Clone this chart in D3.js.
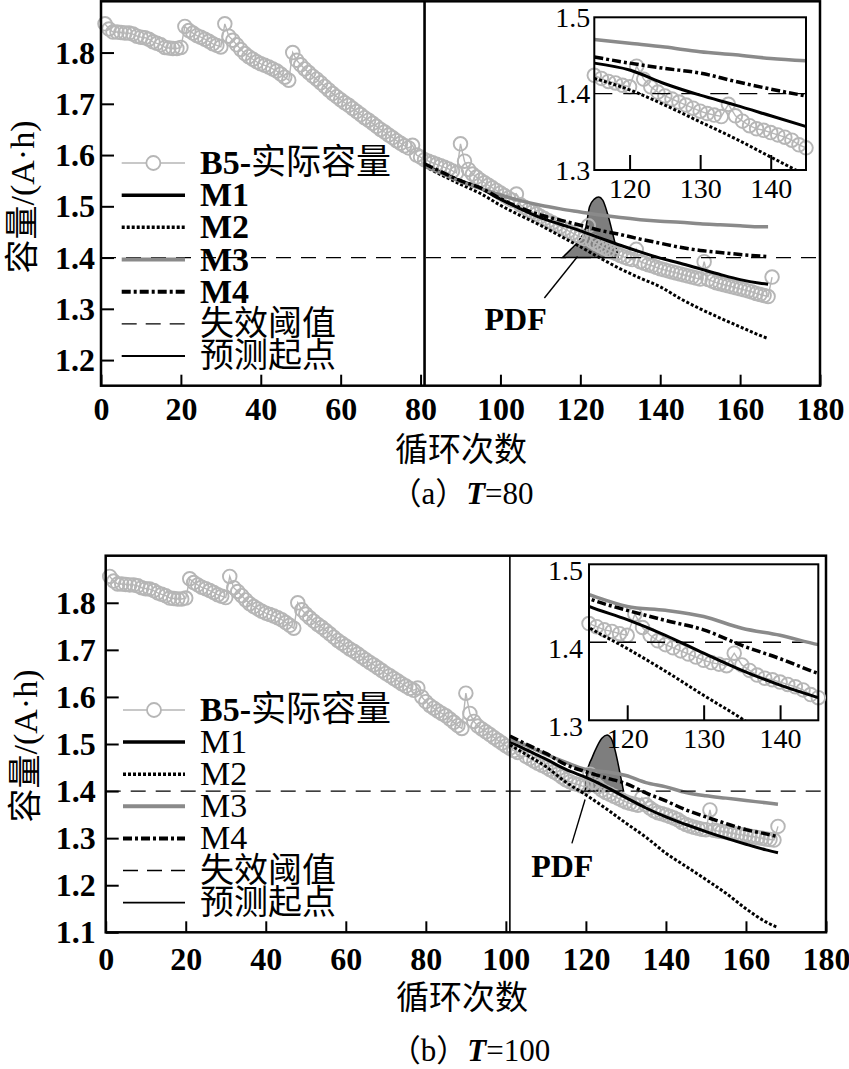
<!DOCTYPE html>
<html><head><meta charset="utf-8">
<script src="https://cdn.jsdelivr.net/npm/d3@7"></script>
<style>body{margin:0;background:#fff}</style>
</head><body>
<svg id="chart" width="849" height="1069"></svg>
<script>
// ---------------- data ----------------
// B5 measured capacity, cycles 1..79 (same in both panels)
const b5Early = [1.856,1.846,1.840,1.840,1.839,1.838,1.838,1.836,1.832,1.830,
 1.829,1.826,1.821,1.818,1.815,1.810,1.809,1.808,1.808,1.810,
 1.851,1.843,1.838,1.833,1.830,1.826,1.822,1.817,1.814,1.811,
 1.856,1.832,1.824,1.815,1.806,1.798,1.792,1.787,1.782,1.778,
 1.775,1.772,1.768,1.764,1.758,1.752,1.746,1.800,1.785,1.776,
 1.768,1.761,1.754,1.748,1.741,1.734,1.727,1.720,1.714,1.708,
 1.702,1.697,1.691,1.685,1.679,1.673,1.668,1.662,1.656,1.650,
 1.645,1.639,1.634,1.628,1.623,1.618,1.614,1.619,1.600];
// cycles 80..168 as drawn in panel (a)
const b5TailA = [1.596,1.591,1.588,1.585,1.582,1.579,1.576,1.573,1.569,1.565,
 1.622,1.588,1.572,1.563,1.557,1.551,1.546,1.541,1.536,1.531,
 1.526,1.521,1.516,1.512,1.524,1.503,1.498,1.493,1.489,1.485,
 1.480,1.476,1.472,1.468,1.464,1.460,1.456,1.452,1.448,1.444,
 1.440,1.437,1.462,1.432,1.427,1.423,1.419,1.415,1.411,1.408,
 1.404,1.401,1.398,1.396,1.416,1.392,1.389,1.386,1.384,1.381,
 1.378,1.376,1.374,1.372,1.370,1.368,1.366,1.364,1.362,1.360,
 1.358,1.392,1.357,1.354,1.351,1.349,1.347,1.345,1.343,1.341,
 1.339,1.337,1.335,1.333,1.330,1.328,1.326,1.324,1.362];
// cycles 80..168 as drawn in panel (b) and in both insets
const b5TailB = [1.590,1.582,1.576,1.570,1.565,1.560,1.553,1.546,1.539,1.533,
 1.608,1.565,1.548,1.538,1.532,1.526,1.520,1.514,1.508,1.502,
 1.496,1.491,1.486,1.482,1.488,1.474,1.469,1.464,1.459,1.455,
 1.451,1.446,1.441,1.436,1.430,1.424,1.420,1.416,1.414,1.411,
 1.409,1.436,1.419,1.409,1.402,1.397,1.393,1.389,1.385,1.381,
 1.377,1.374,1.372,1.370,1.386,1.371,1.364,1.358,1.354,1.352,
 1.349,1.346,1.343,1.339,1.333,1.329,1.326,1.323,1.321,1.319,
 1.318,1.360,1.317,1.315,1.314,1.313,1.311,1.310,1.308,1.307,
 1.306,1.304,1.303,1.301,1.300,1.298,1.297,1.296,1.325];

// predictions, panel (a), T=80
const predCyclesA = [81,85,90,95,100,105,110,115,120,125,130,135,140,145,150,155,160,165,167];
const m1A = [1.581,1.566,1.550,1.535,1.514,1.495,1.478,1.465,1.452,1.438,1.424,1.411,1.399,1.389,1.378,1.367,1.357,1.350,1.348];
const m2A = [1.578,1.562,1.543,1.525,1.502,1.482,1.463,1.442,1.421,1.399,1.378,1.360,1.343,1.320,1.300,1.282,1.265,1.248,1.242];
const m3A = [1.578,1.565,1.548,1.535,1.522,1.511,1.502,1.495,1.489,1.483,1.478,1.474,1.471,1.469,1.466,1.464,1.462,1.460,1.460];
const m4A = [1.583,1.568,1.550,1.536,1.515,1.497,1.483,1.473,1.463,1.453,1.445,1.436,1.428,1.420,1.414,1.410,1.406,1.403,1.402];
// inset of panel (a)
const insetCyclesA = [115,120,125,130,135,140,145];
const m1AI = [1.440,1.431,1.413,1.398,1.385,1.371,1.357];
const m2AI = [1.420,1.405,1.385,1.363,1.341,1.317,1.293];
const m3AI = [1.471,1.466,1.461,1.455,1.451,1.446,1.443];
const m4AI = [1.448,1.440,1.433,1.427,1.416,1.406,1.397];

// predictions, panel (b), T=100 (also used by its inset)
const predCyclesB = [101,105,110,115,120,125,130,135,140,145,150,155,160,165,168];
const m1B = [1.505,1.488,1.468,1.446,1.429,1.409,1.386,1.364,1.345,1.329,1.314,1.300,1.287,1.275,1.269];
const m2B = [1.498,1.478,1.452,1.419,1.392,1.363,1.332,1.302,1.268,1.240,1.212,1.183,1.150,1.122,1.110];
const m3B = [1.510,1.497,1.478,1.461,1.446,1.441,1.433,1.418,1.409,1.397,1.390,1.385,1.380,1.375,1.372];
const m4B = [1.517,1.500,1.480,1.456,1.441,1.428,1.416,1.396,1.379,1.360,1.345,1.331,1.318,1.309,1.303];

// RUL probability density (height above the threshold, capacity units)
const pdfCyclesA = [115.5,117.5,119.7,121.4,122.3,123.5,124.6,125.6,126.8,128.1,128.9,129.5];
const pdfHeightA = [0,0.015,0.034,0.06,0.099,0.114,0.118,0.112,0.086,0.047,0.021,0];
const pdfCyclesB = [119.8,120.3,121.5,122.8,124,125.3,126.3,127.2,128,128.7,129.4];
const pdfHeightB = [0,0.04,0.07,0.095,0.112,0.119,0.112,0.09,0.06,0.03,0];

const threshold = 1.4;
const startA = 81, startB = 101;
const xTicks = [0,20,40,60,80,100,120,140,160,180];
const yTicksA = [1.2,1.3,1.4,1.5,1.6,1.7,1.8];
const yTicksB = [1.1,1.2,1.3,1.4,1.5,1.6,1.7,1.8];
const insetXTicks = [120,130,140];
const insetYTicks = [1.3,1.4,1.5];
const legendLabels = ['B5-实际容量','M1','M2','M3','M4','失效阈值','预测起点'];
const seriesNames = ['M1','M2','M3','M4'];
const xTitle = '循环次数', yTitle = '容量/(A·h)';

// ---------------- drawing ----------------
const SERIF = "'Liberation Serif','Times New Roman',serif";
const MIX = "'Liberation Serif','Noto Sans CJK SC',serif";
const CJK = "'Noto Sans CJK SC','Liberation Serif',sans-serif";
const GRAY_DATA = '#b6b6b6', GRAY_M3 = '#8a8a8a', GRAY_PDF = '#7e7e7e';
const style = {
  M1:{stroke:'#000',w:3,dash:null},
  M2:{stroke:'#000',w:3,dash:'3,2'},
  M3:{stroke:GRAY_M3,w:3.5,dash:null},
  M4:{stroke:'#000',w:3.5,dash:'9,3,3,3'}
};
const svg = d3.select('#chart');
let clipId = 0;

function drawSeries(g, x, y, cycles, vals, name, clip){
  const s = style[name];
  const p = g.append('path').datum(cycles.map((c,i)=>({c,v:vals[i]})))
    .attr('d', d3.line().x(d=>x(d.c)).y(d=>y(d.v)).curve(d3.curveMonotoneX))
    .attr('fill','none').attr('stroke',s.stroke).attr('stroke-width',s.w);
  if(s.dash) p.attr('stroke-dasharray',s.dash);
  if(clip) p.attr('clip-path',clip);
}

function drawCap(g, x, y, data, r, clip, filter){
  const l = g.append('path').datum(data)
    .attr('d', d3.line().x(d=>x(d.c)).y(d=>y(d.v)))
    .attr('fill','none').attr('stroke',GRAY_DATA).attr('stroke-width',1.4);
  if(clip) l.attr('clip-path',clip);
  g.selectAll(null).data(filter? data.filter(filter): data).join('circle')
    .attr('cx',d=>x(d.c)).attr('cy',d=>y(d.v)).attr('r',r)
    .attr('fill','none').attr('stroke',GRAY_DATA).attr('stroke-width',1.9);
}

function drawPanel(o){
  const g = svg.append('g');
  const x = d3.scaleLinear().domain([0,180]).range([o.left,o.right]);
  const y = d3.scaleLinear().domain(o.yDomain).range([o.bottom,o.top]);
  const cap = b5Early.concat(o.tail).map((v,i)=>({c:i+1,v}));

  // PDF
  const pdf = o.pdfC.map((c,i)=>({c,h:o.pdfH[i]}));
  g.append('path').datum(pdf)
    .attr('d', d3.area().x(d=>x(d.c)).y0(y(threshold)).y1(d=>y(threshold+d.h)).curve(d3.curveMonotoneX))
    .attr('fill',GRAY_PDF).attr('stroke','#000').attr('stroke-width',1.5);

  drawCap(g, x, y, cap, 6.8);
  o.preds.forEach((vals,i)=>drawSeries(g, x, y, o.predC, vals, seriesNames[i]));

  // threshold
  g.append('line').attr('x1',x(0)).attr('x2',x(180)).attr('y1',y(threshold)).attr('y2',y(threshold))
    .attr('stroke','#000').attr('stroke-width',1.3).attr('stroke-dasharray','15,10');
  // prediction start
  g.append('line').attr('x1',x(o.start)).attr('x2',x(o.start)).attr('y1',o.top).attr('y2',o.bottom)
    .attr('stroke','#000').attr('stroke-width',o.startW);

  // PDF pointer + label
  g.append('line').attr('x1',x(o.ptr[0])).attr('y1',y(o.ptr[1])).attr('x2',x(o.ptr[2])).attr('y2',y(o.ptr[3]))
    .attr('stroke','#000').attr('stroke-width',1.4);
  g.append('text').attr('x',x(o.pdfLabel[0])).attr('y',y(o.pdfLabel[1])).attr('text-anchor','middle')
    .attr('font-family',SERIF).attr('font-weight','bold').attr('font-size',32).text('PDF');

  // axes
  const xa = g.append('g').attr('transform',`translate(0,${o.bottom})`)
    .call(d3.axisBottom(x).tickValues(xTicks).tickSize(-11).tickPadding(o.xPad).tickFormat(d3.format('d')));
  const ya = g.append('g').attr('transform',`translate(${o.left},0)`)
    .call(d3.axisLeft(y).tickValues(o.yTicks).tickSize(-13).tickPadding(o.yPad).tickFormat(d3.format('.1f')));
  [xa,ya].forEach(a=>{
    a.select('.domain').remove();
    a.selectAll('line').attr('stroke-width',2);
    a.selectAll('text').attr('font-family',SERIF).attr('font-weight','bold').attr('font-size',32);
  });
  ya.selectAll('text').attr('dy','0.33em');

  // frame
  g.append('rect').attr('x',o.left).attr('y',o.top).attr('width',o.right-o.left).attr('height',o.bottom-o.top)
    .attr('fill','none').attr('stroke','#000').attr('stroke-width',2.5);

  // axis titles
  g.append('text').attr('x',o.xTitle[0]).attr('y',o.xTitle[1]).attr('text-anchor','middle')
    .attr('font-family',CJK).attr('font-size',33).text(xTitle);
  g.append('text').attr('transform',`translate(${o.yTitle[0]},${o.yTitle[1]}) rotate(-90)`).attr('text-anchor','middle')
    .attr('font-family',MIX).attr('font-size',34).text(yTitle);

  // caption
  const cp = g.append('text').attr('x',o.caption[0]).attr('y',o.caption[1]).attr('text-anchor','middle')
    .attr('font-family',MIX).attr('font-size',31);
  cp.append('tspan').attr('font-family',CJK).text('（');
  cp.append('tspan').text(o.letter);
  cp.append('tspan').attr('font-family',CJK).text('）');
  cp.append('tspan').attr('font-style','italic').attr('font-weight','bold').text('T');
  cp.append('tspan').text('=' + o.T);

  // legend
  const lx0 = o.legX[0], lx1 = o.legX[1];
  legendLabels.forEach((lab,i)=>{
    const yy = o.legY + i*o.legStep;
    if(i===0){
      g.append('line').attr('x1',lx0).attr('x2',lx1).attr('y1',yy).attr('y2',yy).attr('stroke',GRAY_DATA).attr('stroke-width',1.5);
      g.append('circle').attr('cx',(lx0+lx1)/2).attr('cy',yy).attr('r',7).attr('fill','#fff').attr('stroke',GRAY_DATA).attr('stroke-width',1.8);
    } else if(i<=4){
      const s = style[seriesNames[i-1]];
      const l = g.append('line').attr('x1',lx0).attr('x2',lx1).attr('y1',yy).attr('y2',yy).attr('stroke',s.stroke).attr('stroke-width',s.w+0.5);
      if(s.dash) l.attr('stroke-dasharray',s.dash);
    } else if(i===5){
      g.append('line').attr('x1',lx0).attr('x2',lx1).attr('y1',yy).attr('y2',yy).attr('stroke','#000').attr('stroke-width',1.3).attr('stroke-dasharray','15,9');
    } else {
      g.append('line').attr('x1',lx0).attr('x2',lx1).attr('y1',yy).attr('y2',yy).attr('stroke','#000').attr('stroke-width',1.8);
    }
    const t = g.append('text').attr('x',lx1+15).attr('y',yy+11).attr('font-family',MIX).attr('font-size',34);
    if(i===0){
      t.append('tspan').attr('font-weight','bold').text('B5-');
      t.append('tspan').attr('font-family',CJK).attr('font-size',35).text(lab.slice(3));
    } else if(i<=4){
      t.attr('font-weight',o.legBold?'bold':'normal').text(lab);
    } else {
      t.attr('font-family',CJK).attr('font-size',34).text(lab);
    }
  });

  // inset
  const I = o.inset;
  const xi = d3.scaleLinear().domain([115,145]).range([I.l,I.r]);
  const yi = d3.scaleLinear().domain([1.3,1.5]).range([I.b,I.t]);
  const gi = g.append('g');
  gi.append('rect').attr('x',I.l).attr('y',I.t).attr('width',I.r-I.l).attr('height',I.b-I.t).attr('fill','#fff');
  const id = 'clip' + (clipId++);
  gi.append('clipPath').attr('id',id).append('rect').attr('x',I.l).attr('y',I.t).attr('width',I.r-I.l).attr('height',I.b-I.t);
  const clip = `url(#${id})`;
  const capB = b5Early.concat(b5TailB).map((v,i)=>({c:i+1,v})).filter(d=>d.c>=113 && d.c<=147);
  drawCap(gi, xi, yi, capB, 6.8, clip, d=>d.c>=115 && d.c<=145);
  gi.append('line').attr('x1',I.l).attr('x2',I.r).attr('y1',yi(threshold)).attr('y2',yi(threshold))
    .attr('stroke','#000').attr('stroke-width',1.4).attr('stroke-dasharray','18,11').attr('clip-path',clip);
  I.preds.forEach((vals,i)=>drawSeries(gi, xi, yi, I.cycles, vals, seriesNames[i], clip));
  gi.append('rect').attr('x',I.l).attr('y',I.t).attr('width',I.r-I.l).attr('height',I.b-I.t)
    .attr('fill','none').attr('stroke','#000').attr('stroke-width',2);
  const xia = gi.append('g').attr('transform',`translate(0,${I.b})`)
    .call(d3.axisBottom(xi).tickValues(insetXTicks).tickSize(-15).tickPadding(I.xPad).tickFormat(d3.format('d')));
  const yia = gi.append('g').attr('transform',`translate(${I.l},0)`)
    .call(d3.axisLeft(yi).tickValues(insetYTicks).tickSize(0).tickPadding(I.yPad).tickFormat(d3.format('.1f')));
  [xia,yia].forEach(a=>{
    a.select('.domain').remove();
    a.selectAll('line').attr('stroke-width',2);
    a.selectAll('text').attr('font-family',SERIF).attr('font-size',28);
  });
  yia.selectAll('text').attr('dy',I.yDy);
}

drawPanel({
  left:101, right:820, top:1.3, bottom:385.7, yDomain:[1.15,1.9], yTicks:yTicksA,
  tail:b5TailA, predC:predCyclesA, preds:[m1A,m2A,m3A,m4A],
  pdfC:pdfCyclesA, pdfH:pdfHeightA, start:startA, startW:2.6,
  ptr:[111,1.321,119.3,1.402], pdfLabel:[103.8,1.258],
  xPad:11.5, yPad:6, xTitle:[461,461], yTitle:[34,197], caption:[462,504], letter:'a', T:80,
  legX:[121.7,185], legY:163, legStep:32.17, legBold:true,
  inset:{l:594.3, r:806, t:17.3, b:170, cycles:insetCyclesA, preds:[m1AI,m2AI,m3AI,m4AI], xPad:8, yPad:4, yDy:'0.33em'}
});
drawPanel({
  left:105.7, right:826, top:555.7, bottom:932.3, yDomain:[1.1,1.9], yTicks:yTicksB,
  tail:b5TailB, predC:predCyclesB, preds:[m1B,m2B,m3B,m4B],
  pdfC:pdfCyclesB, pdfH:pdfHeightB, start:startB, startW:1.6,
  ptr:[116.5,1.289,119.8,1.382], pdfLabel:[114.1,1.218],
  xPad:15, yPad:10, xTitle:[462,1009], yTitle:[37,746], caption:[470,1061], letter:'b', T:100,
  legX:[123,185], legY:710, legStep:32.1, legBold:false,
  inset:{l:589, r:818.3, t:564.3, b:720.3, cycles:predCyclesB, preds:[m1B,m2B,m3B,m4B], xPad:8, yPad:6, yDy:'0.55em'}
});
</script>
</body></html>
